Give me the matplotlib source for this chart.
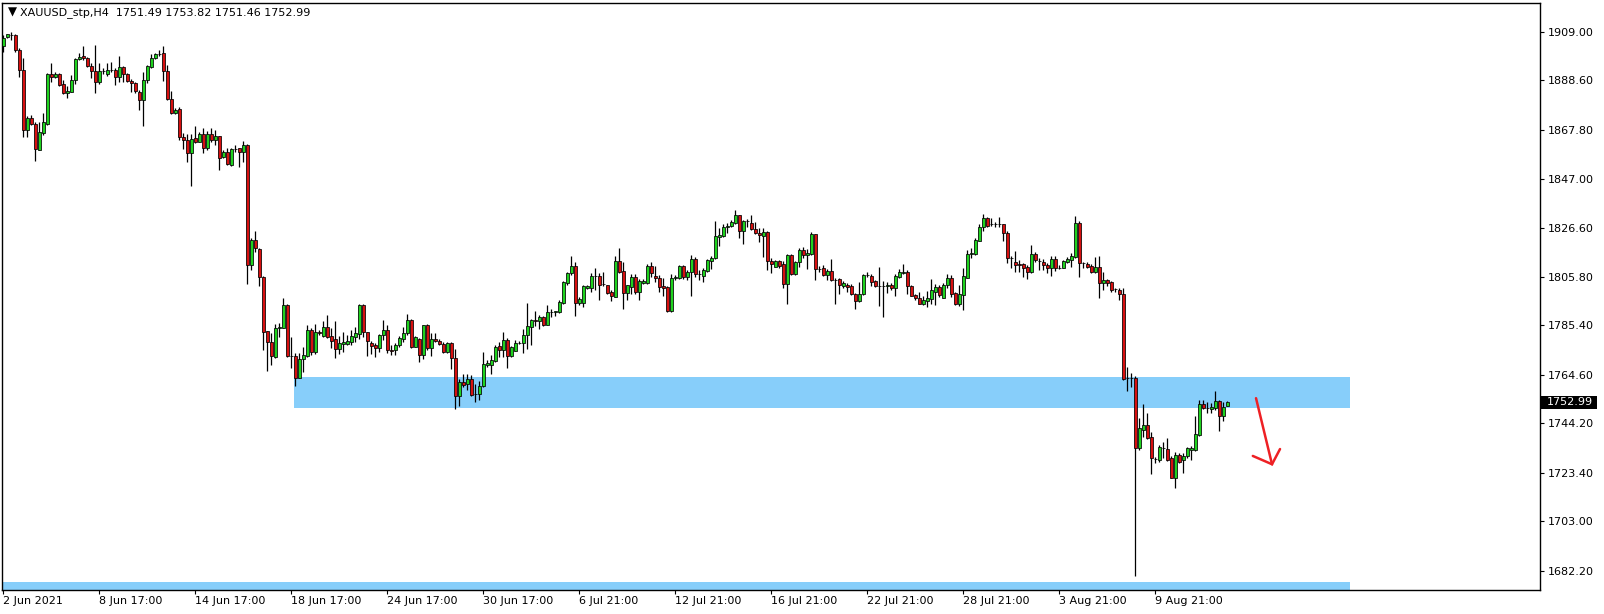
import matplotlib
matplotlib.use('Agg')
import matplotlib.pyplot as plt
from matplotlib.patches import Rectangle
from matplotlib.transforms import blended_transform_factory

# H4 candles, oldest first
opens = [
    1903.1, 1906.8, 1907.8, 1907.6, 1901.2, 1892.8, 1867.5, 1872.6, 1870.3, 1859.4,
    1866.3, 1870.3, 1891.1, 1889.8, 1891.1, 1886.9, 1883.1, 1883.8, 1888.6, 1897.5,
    1898.6, 1897.8, 1894.7, 1892.3, 1887.7, 1892.3, 1891.1, 1892.8, 1892.9, 1889.8,
    1894.0, 1891.2, 1888.3, 1887.3, 1883.6, 1880.4, 1888.6, 1894.3, 1897.8, 1899.6,
    1899.9, 1892.5, 1880.6, 1874.9, 1876.3, 1864.6, 1863.3, 1857.8, 1864.2, 1862.8,
    1866.0, 1859.9, 1866.0, 1863.3, 1865.0, 1856.2, 1858.3, 1853.1, 1859.6, 1859.9,
    1858.5, 1861.3, 1810.9, 1821.4, 1817.6, 1805.7, 1783.1, 1778.3, 1772.3, 1784.2,
    1784.5, 1794.1, 1772.6, 1772.6, 1763.5, 1771.1, 1772.7, 1783.5, 1774.4, 1782.5,
    1781.0, 1784.9, 1781.0, 1779.6, 1775.4, 1777.6, 1777.6, 1778.6, 1780.7, 1782.0,
    1793.9, 1782.5, 1778.0, 1777.2, 1776.1, 1781.3, 1783.4, 1775.1, 1775.0, 1777.3,
    1779.9, 1782.1, 1787.7, 1776.5, 1779.7, 1772.9, 1785.5, 1775.8, 1779.7, 1779.0,
    1777.6, 1774.1, 1777.9, 1771.6, 1755.9, 1761.5, 1760.8, 1762.8, 1756.4, 1756.5,
    1759.8, 1768.9, 1768.7, 1770.6, 1776.6, 1775.2, 1779.3, 1772.7, 1774.8, 1778.0,
    1777.9, 1781.3, 1784.9, 1787.7, 1787.4, 1789.1, 1785.8, 1791.0, 1791.0, 1791.0,
    1795.0, 1803.4, 1807.3, 1810.4, 1795.0, 1795.0, 1801.3, 1801.3, 1806.1, 1806.2,
    1802.9, 1802.3, 1799.5, 1797.5, 1812.5, 1808.3, 1799.2, 1801.7, 1805.7, 1799.6,
    1803.4, 1803.4, 1810.4, 1806.2, 1805.2, 1802.0, 1801.6, 1791.5, 1805.2, 1805.2,
    1810.4, 1806.0, 1807.8, 1813.2, 1806.9, 1806.4, 1808.3, 1812.4, 1813.7, 1822.8,
    1823.2, 1826.7, 1827.1, 1828.7, 1831.7, 1825.2, 1829.3, 1828.4, 1826.0, 1824.3,
    1823.2, 1824.6, 1812.5, 1810.2, 1812.4, 1811.1, 1802.7, 1814.9, 1807.2, 1812.0,
    1817.0, 1814.9, 1815.6, 1823.9, 1809.3, 1809.5, 1806.5, 1808.2, 1804.5, 1804.8,
    1802.2, 1802.3, 1801.9, 1798.5, 1795.9, 1798.5, 1806.7, 1806.2, 1804.1, 1802.0,
    1802.0, 1802.0, 1802.4, 1801.3, 1806.0, 1807.6, 1808.1, 1802.2, 1798.2, 1796.8,
    1794.6, 1795.9, 1796.7, 1799.5, 1801.5, 1797.1, 1802.3, 1805.4, 1798.9, 1794.5,
    1798.2, 1805.5, 1815.3, 1815.5, 1821.1, 1826.7, 1830.5, 1828.0, 1828.0, 1827.9,
    1828.0, 1824.3, 1813.9, 1812.1, 1811.1, 1811.1, 1810.0, 1808.1, 1815.4, 1812.4,
    1812.1, 1810.9, 1809.7, 1813.2, 1809.7, 1809.7, 1812.1, 1813.0, 1814.4, 1828.4,
    1811.8, 1811.3, 1810.4, 1808.1, 1809.9, 1803.2, 1804.6, 1803.9, 1800.6, 1800.3,
    1798.5, 1763.3, 1763.3, 1763.2, 1734.0, 1741.5, 1743.4, 1738.4, 1729.4, 1728.6,
    1733.9, 1733.5, 1729.5, 1721.4, 1730.8, 1728.6, 1730.5, 1732.8, 1732.8, 1739.4,
    1752.3, 1750.6, 1750.2, 1750.6, 1753.7, 1747.1, 1751.49,
]
highs = [
    1907.6, 1908.2, 1909.0, 1907.9, 1902.0, 1897.8, 1873.7, 1874.0, 1871.2, 1870.9,
    1874.7, 1891.5, 1895.7, 1892.2, 1891.5, 1888.7, 1886.2, 1890.8, 1898.1, 1899.9,
    1902.8, 1898.5, 1895.7, 1903.4, 1895.7, 1893.9, 1895.7, 1896.1, 1893.9, 1898.8,
    1894.7, 1891.8, 1889.1, 1888.0, 1884.5, 1892.2, 1895.0, 1899.8, 1900.2, 1901.4,
    1903.0, 1895.0, 1884.1, 1876.8, 1877.4, 1866.3, 1866.1, 1866.1, 1869.3, 1866.7,
    1868.4, 1867.1, 1868.5, 1867.8, 1865.1, 1859.2, 1860.2, 1859.9, 1861.3, 1860.2,
    1863.0, 1861.6, 1822.1, 1825.2, 1818.2, 1806.4, 1783.1, 1782.1, 1785.9, 1786.3,
    1796.9, 1794.6, 1780.6, 1773.7, 1773.7, 1776.5, 1785.6, 1784.2, 1786.0, 1783.5,
    1787.3, 1789.8, 1784.2, 1787.3, 1780.8, 1782.5, 1781.4, 1783.4, 1784.9, 1794.6,
    1794.4, 1782.8, 1779.0, 1777.9, 1781.8, 1787.7, 1785.6, 1777.2, 1778.2, 1781.0,
    1784.9, 1790.2, 1788.3, 1781.0, 1780.0, 1785.8, 1785.9, 1782.4, 1782.1, 1779.6,
    1778.5, 1778.6, 1778.3, 1775.4, 1762.8, 1765.0, 1764.9, 1764.4, 1760.8, 1762.1,
    1774.3, 1770.9, 1772.9, 1777.1, 1778.5, 1782.8, 1780.0, 1776.8, 1779.3, 1779.0,
    1784.1, 1794.7, 1788.3, 1791.5, 1790.0, 1789.5, 1793.9, 1792.2, 1791.6, 1796.1,
    1804.1, 1808.0, 1814.6, 1812.3, 1797.2, 1802.3, 1802.3, 1807.4, 1809.6, 1807.4,
    1807.8, 1802.6, 1800.5, 1814.6, 1817.9, 1812.3, 1802.4, 1806.9, 1806.9, 1805.0,
    1805.0, 1811.1, 1812.3, 1810.6, 1806.7, 1805.5, 1802.0, 1807.2, 1806.7, 1810.9,
    1810.9, 1808.9, 1815.1, 1814.4, 1808.8, 1809.5, 1813.2, 1814.8, 1829.4, 1826.6,
    1828.0, 1828.5, 1829.9, 1834.0, 1831.9, 1829.8, 1830.2, 1831.9, 1829.1, 1826.3,
    1826.4, 1825.2, 1813.7, 1812.8, 1813.1, 1812.7, 1815.3, 1815.6, 1812.5, 1818.1,
    1818.6, 1817.4, 1824.9, 1824.0, 1810.3, 1810.9, 1809.3, 1813.2, 1805.5, 1805.2,
    1804.3, 1803.1, 1802.7, 1798.9, 1803.6, 1807.2, 1807.8, 1806.9, 1804.5, 1810.2,
    1804.3, 1803.6, 1803.4, 1807.1, 1809.3, 1811.1, 1808.6, 1802.4, 1798.5, 1799.4,
    1797.7, 1800.0, 1804.8, 1802.9, 1802.5, 1803.2, 1807.1, 1806.8, 1799.4, 1802.5,
    1809.5, 1817.2, 1818.2, 1822.1, 1828.1, 1832.3, 1831.2, 1830.5, 1829.1, 1831.2,
    1828.1, 1825.2, 1814.6, 1816.9, 1813.0, 1811.6, 1810.7, 1819.3, 1816.5, 1813.7,
    1813.2, 1811.8, 1814.6, 1814.6, 1811.0, 1813.0, 1814.2, 1815.8, 1831.5, 1829.5,
    1812.3, 1812.3, 1811.1, 1814.1, 1814.6, 1807.8, 1805.1, 1804.3, 1801.0, 1801.0,
    1801.2, 1767.8, 1765.3, 1764.2, 1746.5, 1752.4, 1748.5, 1740.5, 1730.2, 1735.2,
    1736.5, 1738.0, 1730.5, 1732.3, 1731.6, 1731.6, 1734.4, 1734.7, 1747.1, 1754.1,
    1754.1, 1753.1, 1752.7, 1757.9, 1754.0, 1753.4, 1753.82,
]
lows = [
    1900.3, 1906.5, 1905.4, 1900.6, 1890.1, 1864.8, 1864.8, 1869.8, 1854.8, 1859.1,
    1865.6, 1869.8, 1887.7, 1889.7, 1886.2, 1882.9, 1881.0, 1883.5, 1887.2, 1897.2,
    1897.0, 1894.2, 1889.4, 1883.4, 1886.9, 1891.3, 1890.5, 1892.2, 1886.6, 1888.0,
    1888.0, 1887.7, 1883.8, 1883.1, 1876.2, 1869.5, 1887.3, 1893.9, 1897.4, 1898.9,
    1888.4, 1880.4, 1874.2, 1874.2, 1863.3, 1859.7, 1854.3, 1844.2, 1862.1, 1862.5,
    1858.0, 1859.1, 1862.8, 1861.3, 1851.0, 1855.7, 1852.9, 1852.7, 1858.5, 1852.1,
    1854.3, 1802.9, 1808.8, 1816.5, 1801.8, 1775.1, 1766.4, 1768.8, 1771.9, 1780.7,
    1784.2, 1772.0, 1767.7, 1760.1, 1763.2, 1766.0, 1772.2, 1773.0, 1773.4, 1781.4,
    1780.4, 1780.0, 1775.8, 1771.9, 1773.4, 1774.4, 1777.1, 1777.1, 1778.6, 1779.6,
    1780.4, 1772.7, 1773.4, 1772.3, 1774.1, 1779.3, 1774.0, 1773.0, 1773.0, 1776.5,
    1778.6, 1781.4, 1776.1, 1776.2, 1770.2, 1771.2, 1775.1, 1772.6, 1778.5, 1777.2,
    1773.7, 1773.7, 1767.0, 1750.1, 1751.7, 1759.7, 1758.3, 1755.9, 1753.0, 1754.1,
    1759.4, 1768.1, 1765.0, 1770.2, 1772.3, 1772.0, 1767.7, 1772.3, 1774.7, 1777.5,
    1773.7, 1775.4, 1777.3, 1785.3, 1784.1, 1785.2, 1785.5, 1788.8, 1789.3, 1790.5,
    1794.6, 1802.4, 1806.6, 1789.5, 1794.0, 1793.3, 1800.9, 1799.6, 1800.3, 1796.3,
    1802.2, 1798.7, 1795.9, 1797.2, 1807.4, 1792.5, 1796.1, 1798.7, 1798.7, 1796.1,
    1803.0, 1803.0, 1806.0, 1803.6, 1799.6, 1798.0, 1791.2, 1791.2, 1804.5, 1805.0,
    1805.0, 1804.5, 1798.0, 1806.0, 1804.5, 1803.6, 1807.8, 1809.2, 1813.2, 1818.8,
    1822.8, 1824.2, 1826.7, 1828.2, 1822.1, 1819.7, 1827.0, 1825.4, 1823.9, 1820.4,
    1814.4, 1808.9, 1807.6, 1809.9, 1809.5, 1801.3, 1794.5, 1806.7, 1806.7, 1810.2,
    1813.7, 1809.2, 1815.1, 1804.4, 1808.1, 1806.4, 1804.4, 1804.1, 1794.3, 1798.8,
    1801.3, 1799.6, 1798.2, 1792.4, 1795.4, 1798.2, 1805.7, 1801.9, 1801.6, 1793.8,
    1789.1, 1799.2, 1800.3, 1798.0, 1805.2, 1807.1, 1798.8, 1797.7, 1796.1, 1794.3,
    1794.0, 1793.0, 1794.4, 1794.2, 1797.5, 1796.8, 1801.0, 1797.5, 1794.0, 1793.6,
    1791.9, 1805.3, 1813.7, 1815.1, 1820.8, 1825.3, 1827.0, 1827.3, 1827.0, 1827.0,
    1821.0, 1811.6, 1809.5, 1808.1, 1808.1, 1805.7, 1805.0, 1807.6, 1812.1, 1808.8,
    1808.8, 1807.4, 1806.2, 1808.5, 1809.3, 1809.5, 1811.6, 1810.2, 1813.7, 1806.0,
    1809.5, 1809.5, 1807.6, 1807.6, 1797.1, 1800.3, 1802.0, 1799.5, 1799.6, 1796.1,
    1762.5, 1758.0, 1759.4, 1679.8, 1733.0, 1738.4, 1737.5, 1723.0, 1727.4, 1728.1,
    1729.5, 1728.4, 1721.1, 1717.2, 1727.7, 1723.5, 1729.5, 1728.6, 1732.5, 1738.9,
    1750.2, 1748.5, 1748.5, 1749.9, 1741.2, 1745.0, 1751.46,
]
closes = [
    1906.5, 1907.9, 1907.6, 1901.2, 1892.8, 1867.5, 1872.6, 1870.0, 1859.5, 1866.7,
    1870.9, 1891.1, 1889.8, 1891.1, 1886.6, 1883.1, 1884.1, 1888.7, 1897.5, 1898.4,
    1897.8, 1894.7, 1892.3, 1887.7, 1892.3, 1892.6, 1892.8, 1892.9, 1889.8, 1894.0,
    1891.2, 1888.1, 1887.3, 1884.1, 1880.4, 1888.6, 1894.4, 1897.8, 1899.6, 1899.8,
    1892.5, 1880.6, 1874.9, 1876.1, 1864.6, 1863.3, 1857.8, 1864.0, 1862.8, 1866.0,
    1859.9, 1866.0, 1863.3, 1865.0, 1856.0, 1858.5, 1853.2, 1859.5, 1859.8, 1858.5,
    1861.3, 1810.9, 1821.4, 1817.9, 1805.7, 1782.8, 1778.3, 1772.6, 1784.2, 1784.8,
    1794.1, 1772.6, 1772.5, 1763.5, 1771.3, 1773.0, 1783.4, 1774.4, 1782.5, 1782.1,
    1784.9, 1780.7, 1779.0, 1775.4, 1777.9, 1778.3, 1778.9, 1781.0, 1782.1, 1793.9,
    1782.5, 1778.7, 1776.9, 1776.1, 1781.3, 1783.4, 1775.0, 1774.5, 1777.1, 1780.1,
    1782.1, 1787.7, 1776.5, 1780.7, 1772.9, 1785.5, 1775.8, 1779.7, 1779.0, 1777.6,
    1774.1, 1778.0, 1771.6, 1755.9, 1761.5, 1760.5, 1762.8, 1756.3, 1756.5, 1759.8,
    1769.1, 1769.8, 1770.9, 1776.4, 1775.2, 1779.3, 1772.7, 1776.4, 1777.9, 1778.2,
    1781.3, 1785.1, 1787.7, 1787.2, 1789.0, 1785.8, 1791.0, 1791.1, 1791.4, 1795.3,
    1803.7, 1807.5, 1810.4, 1795.0, 1796.5, 1802.0, 1801.9, 1806.2, 1806.1, 1802.6,
    1802.8, 1799.2, 1797.7, 1812.4, 1808.0, 1799.2, 1802.3, 1805.7, 1799.6, 1804.0,
    1804.1, 1810.4, 1807.6, 1805.2, 1801.6, 1801.3, 1791.5, 1805.2, 1805.8, 1810.4,
    1806.0, 1807.8, 1813.2, 1806.9, 1806.9, 1808.6, 1812.8, 1813.8, 1822.9, 1823.5,
    1826.8, 1827.3, 1828.9, 1831.7, 1825.2, 1829.2, 1829.4, 1825.9, 1824.2, 1823.3,
    1824.6, 1812.5, 1811.1, 1812.4, 1810.4, 1802.7, 1814.9, 1807.2, 1812.0, 1817.0,
    1814.9, 1815.9, 1823.9, 1809.3, 1809.3, 1806.7, 1808.2, 1804.5, 1804.5, 1802.4,
    1803.3, 1801.7, 1798.5, 1795.9, 1798.5, 1806.7, 1806.7, 1803.8, 1802.0, 1802.0,
    1802.0, 1802.4, 1801.3, 1806.2, 1807.8, 1808.1, 1801.9, 1798.0, 1796.8, 1794.6,
    1796.0, 1797.0, 1800.3, 1801.5, 1798.2, 1802.3, 1805.4, 1798.8, 1794.5, 1798.5,
    1806.1, 1815.5, 1816.0, 1821.4, 1826.7, 1830.5, 1827.4, 1828.0, 1827.9, 1828.0,
    1824.2, 1813.9, 1813.9, 1810.7, 1810.7, 1809.7, 1808.1, 1815.4, 1813.0, 1812.4,
    1810.7, 1809.7, 1813.2, 1809.7, 1809.7, 1812.4, 1813.2, 1814.6, 1828.4, 1811.8,
    1811.8, 1810.2, 1808.1, 1809.9, 1803.2, 1804.6, 1803.4, 1800.3, 1800.6, 1798.5,
    1762.9, 1763.3, 1763.3, 1734.0, 1742.2, 1743.4, 1738.2, 1729.5, 1729.4, 1734.2,
    1733.9, 1728.8, 1721.4, 1730.8, 1728.0, 1730.5, 1733.7, 1733.9, 1739.6, 1752.4,
    1750.7, 1750.6, 1751.3, 1753.7, 1747.1, 1751.0, 1752.99,
]

# time axis labels, one every 24 bars
tick_bars = [0, 24, 48, 72, 96, 120, 144, 168, 192, 216, 240, 264, 288]
tick_labels = ['2 Jun 2021', '8 Jun 17:00', '14 Jun 17:00', '18 Jun 17:00',
               '24 Jun 17:00', '30 Jun 17:00', '6 Jul 21:00', '12 Jul 21:00',
               '16 Jul 21:00', '22 Jul 21:00', '28 Jul 21:00', '3 Aug 21:00',
               '9 Aug 21:00']

# price scale
price_ticks = [1909.00, 1888.60, 1867.80, 1847.00, 1826.60, 1805.80,
               1785.40, 1764.60, 1744.20, 1723.40, 1703.00, 1682.20]

# supply / demand zones (bar range, price range)
zone_upper = (72.8, 336.7, 1750.85, 1763.75)
zone_lower = (-1.0, 336.7, 1660.0, 1677.5)

# hand drawn arrow (bar, price)
arrow_shaft = ([313.2, 317.2], [1754.8, 1727.0])
arrow_head = ([312.4, 317.2, 319.2], [1730.5, 1727.0, 1733.4])

BULL = '#1fd21f'
BEAR = '#d61010'
ZONE = '#87cefa'


def main():
    plt.rcParams['font.family'] = ['DejaVu Sans']
    plt.rcParams['font.size'] = 8

    fig = plt.figure(figsize=(16.04, 6.14), dpi=100)
    ax = fig.add_axes([2 / 1604, 24.5 / 614, 1538 / 1604, 587 / 614])

    n = len(closes)
    xs = list(range(n))

    # zones behind the candles
    for x0, x1, y0, y1 in (zone_upper, zone_lower):
        ax.add_patch(Rectangle((x0, y0), x1 - x0, y1 - y0, facecolor=ZONE,
                               edgecolor='none', zorder=1))

    # wicks
    ax.vlines(xs, lows, highs, color='black', linewidth=0.9, zorder=2)

    # bodies
    bottoms = [min(o, c) for o, c in zip(opens, closes)]
    heights = [abs(c - o) for o, c in zip(opens, closes)]
    colors = [BULL if c > o else (BEAR if c < o else 'black')
              for o, c in zip(opens, closes)]
    ax.bar(xs, heights, bottom=bottoms, width=0.72, color=colors,
           edgecolor='black', linewidth=0.55, zorder=3)

    ax.set_xlim(-0.33, 384.2)
    ax.set_ylim(1674.3, 1921.3)

    # axes styling like the terminal
    for s in ax.spines.values():
        s.set_color('black')
        s.set_linewidth(1.0)
    ax.yaxis.tick_right()
    ax.set_yticks(price_ticks)
    ax.set_yticklabels(['%.2f' % p for p in price_ticks])
    ax.set_xticks(tick_bars)
    ax.set_xticklabels(tick_labels)
    ax.tick_params(axis='y', direction='out', length=3, width=0.8, pad=2.5,
                   labelsize=8, colors='black')
    ax.tick_params(axis='x', direction='out', length=3, width=0.8, pad=2,
                   labelsize=8, colors='black')
    plt.setp(ax.get_xticklabels(), ha='left')

    # current price marker on the price scale
    last = closes[-1]
    trans = blended_transform_factory(ax.transAxes, ax.transData)
    ax.add_patch(Rectangle((1.0007, last - 2.75), 0.0362, 5.5, transform=trans,
                           facecolor='black', edgecolor='none', clip_on=False,
                           zorder=5))
    ax.text(1.0045, last, '%.2f' % last, transform=trans, color='white',
            ha='left', va='center', fontsize=8, zorder=6, clip_on=False)

    # arrow
    ax.plot(*arrow_shaft, color='#ee2024', linewidth=1.8,
            solid_capstyle='round', zorder=4)
    ax.plot(*arrow_head, color='#ee2024', linewidth=1.8,
            solid_capstyle='round', solid_joinstyle='miter', zorder=4)

    # header
    fig.text(8 / 1604, 1 - 12.5 / 614, '\u25bc', fontsize=8.5, ha='left',
             va='center', color='black')
    fig.text(20.5 / 1604, 1 - 12.5 / 614,
             'XAUUSD_stp,H4  %.2f %.2f %.2f %.2f'
             % (opens[-1], highs[-1], lows[-1], closes[-1]),
             fontsize=8, ha='left', va='center', color='black')

    fig.savefig('out.png', dpi=100, facecolor='white')


if __name__ == '__main__':
    main()
